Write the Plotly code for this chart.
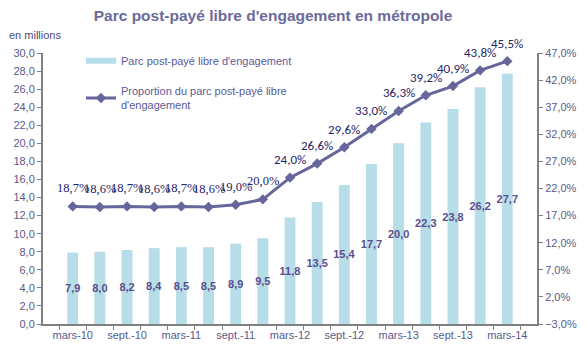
import plotly.graph_objects as go

categories = ["mars-10", "juin-10", "sept.-10", "déc.-10", "mars-11", "juin-11", "sept.-11", "déc.-11",
              "mars-12", "juin-12", "sept.-12", "déc.-12", "mars-13", "juin-13", "sept.-13", "déc.-13", "mars-14"]
parc_millions = [7.9, 8.0, 8.2, 8.4, 8.5, 8.5, 8.9, 9.5, 11.8, 13.5, 15.4, 17.7, 20.0, 22.3, 23.8, 26.2, 27.7]
proportion_pct = [18.7, 18.6, 18.7, 18.6, 18.7, 18.6, 19.0, 20.0, 24.0, 26.6, 29.6, 33.0, 36.3, 39.2, 40.9, 43.8, 45.5]
shown_ticks = ["mars-10", "sept.-10", "mars-11", "sept.-11", "mars-12", "sept.-12", "mars-13", "sept.-13", "mars-14"]

SANS = "Liberation Sans, Arial, sans-serif"
SERIF = "Liberation Serif, serif"
CAL = "Carlito, Liberation Sans, sans-serif"
BAR_COLOR = "#b7dde8"
LINE_COLOR = "#66669c"
BAR_NAME = "Parc post-payé libre d'engagement"
LINE_NAME = "Proportion du parc post-payé libre<br>d'engagement"

fig = go.Figure()
fig.add_trace(go.Bar(
    x=categories, y=parc_millions, name=BAR_NAME, showlegend=False,
    marker=dict(color=BAR_COLOR, line=dict(width=0)), width=0.4,
    texttemplate="<b>%{y:.1f}</b>", textposition="inside", insidetextanchor="middle",
    textfont=dict(color="#5b4e8c", size=11, family=SANS), textangle=0,
    constraintext="none",
    yaxis="y",
))
# legend swatch for the bar series (wide flat rectangle like the original)
fig.add_trace(go.Scatter(
    x=[None], y=[None], name=BAR_NAME, legendgroup="a",
    mode="lines", line=dict(color=BAR_COLOR, width=6), yaxis="y",
))
fig.add_trace(go.Scatter(
    x=categories, y=proportion_pct, name=LINE_NAME,
    legendgroup="b",
    mode="lines+markers", line=dict(color=LINE_COLOR, width=3),
    marker=dict(symbol="diamond", size=8, color=LINE_COLOR),
    yaxis="y2", cliponaxis=False,
))

annotations = []
for i, (c, v) in enumerate(zip(categories, proportion_pct)):
    annotations.append(dict(
        x=c, y=v, xref="x", yref="y2", text=f"{v:.1f}%".replace(".", ","),
        showarrow=False, yshift=18, xanchor="center", yanchor="middle",
        font=dict(size=12.5 if i < 8 else 13, color="#1f2466", family=SERIF if i < 8 else CAL),
    ))
annotations.append(dict(text="en millions", xref="paper", yref="paper", x=-36 / 494, y=1 + 18 / 271,
                        xanchor="left", yanchor="middle", showarrow=False,
                        font=dict(size=11, color="#4a4a7a")))

fig.update_layout(
    width=587, height=360,
    margin=dict(l=43, r=50, t=53, b=36, autoexpand=False),
    paper_bgcolor="white", plot_bgcolor="white",
    separators=",.",
    uniformtext=dict(minsize=11, mode="show"),
    font=dict(family=SANS, size=11, color="#5a5a8a"),
    title=dict(text="<b>Parc post-payé libre d'engagement en métropole</b>",
               x=273 / 587, xanchor="center", y=1 - 16 / 360, yanchor="middle",
               font=dict(size=15.5, color="#6b6b9b", family=SANS)),
    showlegend=True,
    legend=dict(x=(81 - 43) / 494, y=1.025, xanchor="left", yanchor="top", bgcolor="rgba(0,0,0,0)",
                font=dict(size=11, color="#5a5a9a"), tracegroupgap=12, itemwidth=30),
    xaxis=dict(type="category", tickson="boundaries", ticks="outside", ticklen=4,
               tickcolor="#808080", tickwidth=1, tickangle=0,
               tickvals=categories,
               ticktext=[c if c in shown_ticks else "" for c in categories],
               showline=True, linecolor="#808080", linewidth=2, showgrid=False,
               tickfont=dict(size=11, color="#5a5a8a")),
    yaxis=dict(range=[0, 30], dtick=2, tickformat=".1f", showgrid=False, zeroline=False,
               showline=True, linecolor="#808080", linewidth=2, ticks="outside", ticklen=4,
               tickcolor="#808080", tickfont=dict(size=11, color="#5a5a8a")),
    yaxis2=dict(range=[-3, 47], dtick=5, tick0=-3, tickformat=".1f", ticksuffix="%",
                overlaying="y", side="right", showgrid=False, zeroline=False,
                showline=True, linecolor="#808080", linewidth=2, ticks="outside", ticklen=4,
                tickcolor="#808080", tickfont=dict(size=11, color="#5a5a8a")),
    annotations=annotations,
)

fig.write_html("out.html", config={"displayModeBar": False},
               post_script="document.body.style.margin='0';")
